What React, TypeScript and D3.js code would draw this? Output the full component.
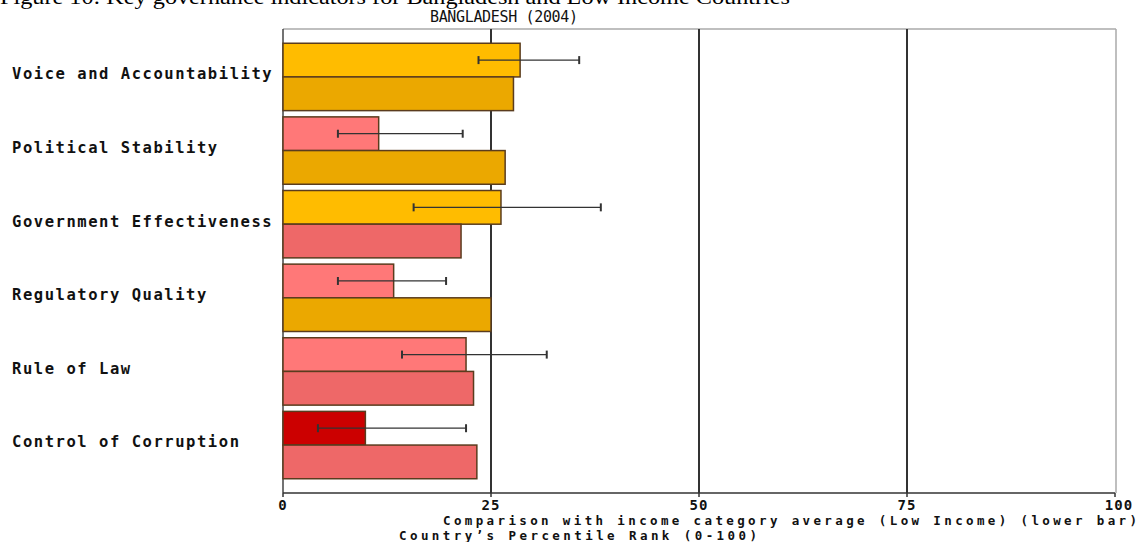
import React from "react";
import * as d3 from "d3";

const categories = [
  "Voice and Accountability",
  "Political Stability",
  "Government Effectiveness",
  "Regulatory Quality",
  "Rule of Law",
  "Control of Corruption",
];
const countryRank = [28.5, 11.5, 26.2, 13.3, 22.0, 9.9];
const errLow = [23.5, 6.6, 15.7, 6.6, 14.3, 4.2];
const errHigh = [35.6, 21.6, 38.2, 19.6, 31.7, 22.0];
const incomeAvg = [27.7, 26.7, 21.4, 25.0, 22.9, 23.3];
const ticks = [0, 25, 50, 75, 100];

const topColor = (v: number) => (v < 10 ? "#CC0000" : v < 25 ? "#FF7878" : "#FFBC00");
const lowColor = (v: number) => (v < 25 ? "#EE6868" : "#EBA800");

const W = 1139;
const H = 542;
const mono = "'DejaVu Sans Mono', monospace";

export default function App() {
  const x = d3.scaleLinear().domain([0, 100]).range([283, 1115]);
  const y = d3.scaleBand<string>().domain(categories).range([37, 485]).padding(0.085);
  const bw = y.bandwidth();
  const half = bw / 2;
  const top = 29;
  const bottom = 493;
  const barStroke = "#5a3c1e";

  return (
    <svg
      width={W}
      height={H}
      style={{ position: "absolute", left: 0, top: 0, background: "#fff" }}
    >
      <text
        x={0}
        y={4}
        fontFamily="'Liberation Serif', serif"
        fontSize={20}
        textLength={790}
        lengthAdjust="spacingAndGlyphs"
        fill="#000"
      >
        Figure 10: Key governance indicators for Bangladesh and Low Income Countries
      </text>
      <text
        x={430}
        y={17}
        dy="0.35em"
        fontFamily={mono}
        fontSize={15}
        textLength={148}
        lengthAdjust="spacing"
        fill="#111"
      >
        BANGLADESH (2004)
      </text>

      {/* frame */}
      <line x1={x(0)} x2={1116} y1={top} y2={top} stroke="#aaa" strokeWidth={1.5} />
      <line x1={1116} x2={1116} y1={top} y2={bottom} stroke="#aaa" strokeWidth={1.5} />
      <line x1={x(0)} x2={x(0)} y1={top} y2={bottom} stroke="#444" strokeWidth={1.5} />

      {/* gridlines */}
      {ticks
        .filter((t) => t > 0 && t < 100)
        .map((t) => (
          <line key={t} x1={x(t)} x2={x(t)} y1={top} y2={bottom} stroke="#333" strokeWidth={2} />
        ))}

      {/* bars */}
      {categories.map((c, i) => {
        const y0 = y(c) as number;
        const yc = y0 + half / 2;
        return (
          <g key={c}>
            <rect
              x={x(0)}
              y={y0}
              width={x(countryRank[i]) - x(0)}
              height={half}
              fill={topColor(countryRank[i])}
              stroke={barStroke}
              strokeWidth={1.5}
            />
            <rect
              x={x(0)}
              y={y0 + half}
              width={x(incomeAvg[i]) - x(0)}
              height={half}
              fill={lowColor(incomeAvg[i])}
              stroke={barStroke}
              strokeWidth={1.5}
            />
            <g stroke="#333" strokeWidth={1.3}>
              <line x1={x(errLow[i])} x2={x(errHigh[i])} y1={yc} y2={yc} />
              <line x1={x(errLow[i])} x2={x(errLow[i])} y1={yc - 4} y2={yc + 4} strokeWidth={2} />
              <line x1={x(errHigh[i])} x2={x(errHigh[i])} y1={yc - 4} y2={yc + 4} strokeWidth={2} />
            </g>
            <text
              x={12}
              y={y0 + half - 3}
              dy="0.35em"
              fontFamily={mono}
              fontWeight="bold"
              fontSize={15.5}
              letterSpacing={1.55}
              fill="#111"
            >
              {c}
            </text>
          </g>
        );
      })}

      {/* x axis */}
      <line x1={x(0)} x2={x(100)} y1={bottom} y2={bottom} stroke="#333" strokeWidth={1.5} />
      {ticks.map((t) => (
        <g key={t}>
          <line x1={x(t)} x2={x(t)} y1={bottom} y2={bottom + 4} stroke="#333" strokeWidth={1.5} />
          <text
            x={x(t) + (t === 100 ? 4 : 0)}
            y={505}
            dy="0.35em"
            textAnchor="middle"
            fontFamily={mono}
            fontWeight="bold"
            fontSize={14}
            letterSpacing={1}
            fill="#111"
          >
            {t}
          </text>
        </g>
      ))}
      <text
        x={443}
        y={521}
        dy="0.35em"
        fontFamily={mono}
        fontWeight="bold"
        fontSize={12.5}
        textLength={694}
        lengthAdjust="spacing"
        fill="#111"
      >
        Comparison with income category average (Low Income) (lower bar)
      </text>
      <text
        x={399}
        y={536}
        dy="0.35em"
        fontFamily={mono}
        fontWeight="bold"
        fontSize={12.5}
        textLength={358}
        lengthAdjust="spacing"
        fill="#111"
      >
        Country’s Percentile Rank (0-100)
      </text>
    </svg>
  );
}
